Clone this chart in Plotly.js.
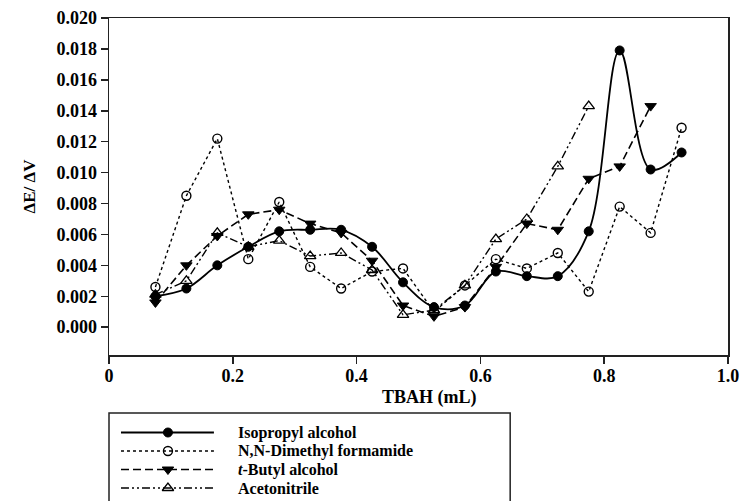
<!DOCTYPE html>
<html>
<head>
<meta charset="utf-8">
<script src="https://cdn.plot.ly/plotly-3.0.1.min.js"></script>
<style>html,body{margin:0;padding:0;background:#fff;}#chart{width:741px;height:501px;}</style>
</head>
<body>
<div id="chart"></div>
<script>
// ---- data ----
const tbah = [0.075,0.125,0.175,0.225,0.275,0.325,0.375,0.425,0.475,0.525,0.575,0.625,0.675,0.725,0.775,0.825,0.875,0.925];
const isopropyl = [0.0020,0.0025,0.0040,0.0052,0.0062,0.0063,0.0063,0.0052,0.0029,0.0013,0.0014,0.0036,0.0033,0.0033,0.0062,0.0179,0.0102,0.0113];
const dmf = [0.0026,0.0085,0.0122,0.0044,0.0081,0.0039,0.0025,0.0036,0.0038,0.0010,0.0027,0.0044,0.0038,0.0048,0.0023,0.0078,0.0061,0.0129];
const tButyl = [0.0016,0.0040,0.0059,0.0073,0.0076,0.0067,0.0061,0.0043,0.0014,0.0007,0.0013,0.0039,0.0067,0.0063,0.0096,0.0104,0.0143];
const acetonitrile = [0.0021,0.0030,0.0061,0.0052,0.0056,0.0046,0.0048,0.0037,0.0008,0.0011,0.0027,0.0057,0.0070,0.0104,0.0143];
const seriesNames = ["Isopropyl alcohol","N,N-Dimethyl formamide","<i>t</i>-Butyl alcohol","Acetonitrile"];
const xTickVals = [0,0.2,0.4,0.6,0.8,1.0];
const xTickText = ["0","0.2","0.4","0.6","0.8","1.0"];
const yTickVals = [0,0.002,0.004,0.006,0.008,0.010,0.012,0.014,0.016,0.018,0.020];
const xTitle = "TBAH (mL)";
const yTitle = "ΔE/ ΔV";

// ---- styles ----
const FONT = "Liberation Serif";
const styles = [
  {dash:"solid", shape:"spline", width:1.8, marker:{symbol:"circle", size:9, color:"#000", line:{color:"#000",width:1}}},
  {dash:"dot", shape:"linear", width:1.4, marker:{symbol:"circle-open", size:9, color:"#000", line:{color:"#000",width:1.4}}},
  {dash:"8px,4px", shape:"linear", width:1.6, marker:{symbol:"triangle-down", size:10, color:"#000", line:{color:"#000",width:1}}},
  {dash:"8px,3px,2px,3px,2px,3px", shape:"linear", width:1.4, marker:{symbol:"triangle-up-open", size:10, color:"#000", line:{color:"#000",width:1.3}}}
];
const ys = [isopropyl, dmf, tButyl, acetonitrile];

const traces = ys.map((y,i)=>({
  type:"scatter", mode:"lines+markers", name:seriesNames[i],
  x: tbah.slice(0,y.length), y: y,
  line:{color:"#000", width:styles[i].width, dash:styles[i].dash, shape:styles[i].shape, smoothing:1},
  marker: styles[i].marker,
  xaxis:"x", yaxis:"y", showlegend:false, cliponaxis:false
}));

// custom legend drawn on a hidden axis pair below the plot
const legendRows = [68.5, 50, 31.5, 13];
const annotations = [];
ys.forEach((y,i)=>{
  traces.push({type:"scatter", mode:"lines", x:[12,105], y:[legendRows[i],legendRows[i]],
    line:{color:"#000", width:styles[i].width, dash:styles[i].dash}, xaxis:"x2", yaxis:"y2", showlegend:false, hoverinfo:"skip"});
  traces.push({type:"scatter", mode:"markers", x:[59], y:[legendRows[i]],
    marker: styles[i].marker, xaxis:"x2", yaxis:"y2", showlegend:false, hoverinfo:"skip"});
  annotations.push({xref:"x2", yref:"y2", x:127, y:legendRows[i], xanchor:"left", yanchor:"middle",
    text:"<b>"+seriesNames[i]+"</b>", showarrow:false, font:{family:FONT, size:16, color:"#000"}});
});
// x-axis title (placed like the reference, slightly right of centre)
annotations.push({xref:"paper", yref:"paper", x:(429-108.5)/619.5, y:(501-397)/483, xanchor:"center", yanchor:"middle",
  text:"<b>"+xTitle+"</b>", showarrow:false, font:{family:FONT, size:18, color:"#000"}});

const layout = {
  width:741, height:501,
  margin:{l:108.5, r:13, t:18, b:0},
  paper_bgcolor:"#fff", plot_bgcolor:"#fff",
  font:{family:FONT, color:"#000"},
  xaxis:{
    domain:[0,1], anchor:"y", range:[0,1.0],
    tickvals:xTickVals, ticktext:xTickText,
    ticks:"outside", ticklen:7, tickwidth:1.5, tickcolor:"#222",
    showline:true, mirror:true, linecolor:"#222", linewidth:1.5,
    showgrid:false, zeroline:false, ticklabelstandoff:-3,
    tickfont:{family:FONT, size:18, weight:"bold", color:"#000"}
  },
  yaxis:{
    domain:[146/483, 1], anchor:"x", range:[-0.0018, 0.020],
    tickvals:yTickVals, tickformat:".3f",
    ticks:"outside", ticklen:7, tickwidth:1.5, tickcolor:"#222",
    showline:true, mirror:true, linecolor:"#222", linewidth:1.5,
    showgrid:false, zeroline:false,
    tickfont:{family:FONT, size:18, weight:"bold", color:"#000"},
    title:{text:"<b>"+yTitle+"</b>", font:{family:FONT, size:17, color:"#000"}, standoff:16}
  },
  xaxis2:{domain:[0, 401.5/619.5], anchor:"y2", range:[0,401.5], visible:false, fixedrange:true},
  yaxis2:{domain:[0, 85/483], anchor:"x2", range:[0,85], visible:false, fixedrange:true},
  shapes:[{type:"rect", xref:"paper", yref:"paper", x0:0, x1:401.5/619.5, y0:-0.02, y1:88/483,
    line:{color:"#222", width:1.5}, fillcolor:"rgba(0,0,0,0)"}],
  annotations: annotations,
  showlegend:false
};

Plotly.newPlot("chart", traces, layout, {displayModeBar:false, staticPlot:true});
</script>
</body>
</html>
